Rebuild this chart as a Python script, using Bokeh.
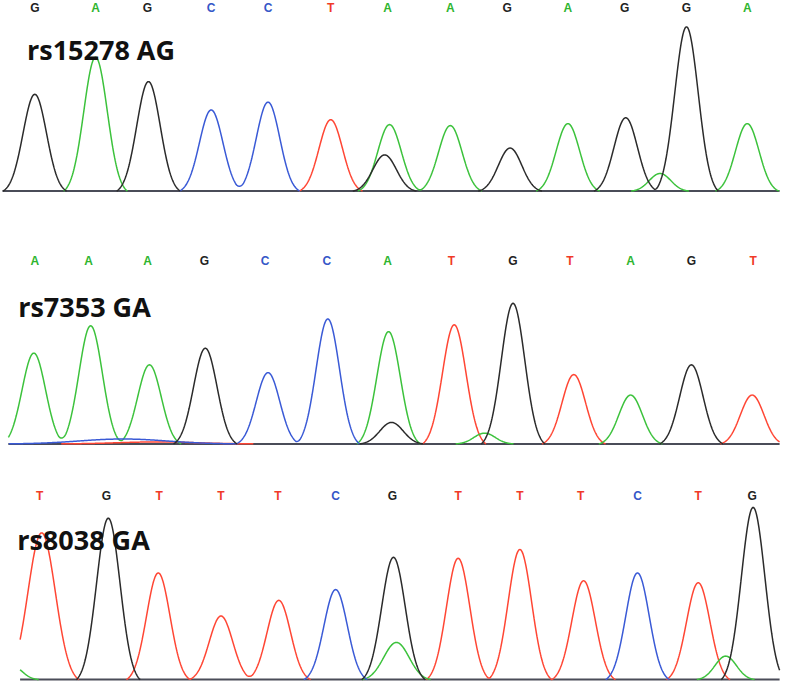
import numpy as np
from bokeh.plotting import figure
from bokeh.layouts import column
from bokeh.models import Range1d
from bokeh.embed import file_html
from bokeh.resources import INLINE
from bokeh.core.properties import value

# ---------------- data ----------------
# Panel 1
p1_title = "rs15278 AG"
p1_calls = ["G", "A", "G", "C", "C", "T", "A", "A", "G", "A", "G", "G", "A"]
p1_call_x = [35, 97, 150, 215, 273, 337, 395, 459, 517, 579, 637, 700, 762]
p1_peak_base = ["G", "A", "G", "C", "C", "T", "A", "G", "A", "G", "A", "G", "A", "G", "A"]
p1_peak_x = [35, 97, 151, 215, 273, 337, 397, 392, 459, 520, 579, 638, 673, 700, 762]
p1_peak_h = [99, 137, 112, 83, 91, 73, 68, 37, 67, 44, 69, 75, 18, 168, 69]
p1_peak_w = [12, 12, 12, 12, 12, 12, 12, 12, 12, 12, 12, 12, 11, 12, 12]
p1_scan = [2, 795]

# Panel 2
p2_title = "rs7353 GA"
p2_calls = ["A", "A", "A", "G", "C", "C", "A", "T", "G", "T", "A", "G", "T"]
p2_call_x = [35, 90, 150, 208, 270, 333, 395, 460, 523, 581, 643, 705, 768]
p2_peak_base = ["A", "A", "A", "G", "C", "C", "A", "G", "T", "A", "G", "T", "A", "G", "T", "C", "T"]
p2_peak_x = [34, 92, 152, 209, 273, 334, 396, 399, 463, 494, 523, 585, 643, 705, 767, 125, 160]
p2_peak_h = [93, 121, 81, 98, 73, 128, 115, 22, 122, 11, 144, 71, 50, 81, 50, 5, 2]
p2_peak_w = [12, 12, 12, 12, 12, 12, 12, 12, 12, 11, 12, 12, 12, 12, 12, 45, 40]
p2_scan = [8, 795]

# Panel 3
p3_title = "rs8038 GA"
p3_calls = ["T", "G", "T", "T", "T", "C", "G", "T", "T", "T", "C", "T", "G"]
p3_call_x = [40, 108, 162, 225, 283, 342, 400, 467, 530, 592, 650, 712, 767]
p3_peak_base = ["T", "A", "G", "T", "T", "T", "C", "G", "A", "T", "T", "T", "C", "T", "A", "G"]
p3_peak_x = [42, 12, 110, 161, 225, 284, 342, 401, 404, 467, 530, 595, 650, 712, 740, 768]
p3_peak_h = [150, 14, 165, 109, 65, 81, 92, 125, 38, 124, 133, 101, 109, 99, 24, 176]
p3_peak_w = [14, 10, 12, 12, 12, 12, 12, 12, 13, 12, 12, 12, 12, 12, 11, 12]
p3_scan = [20, 795]

# ---------------- styling ----------------
TRACE_COL = {"A": "#3cc23c", "C": "#3a5ad6", "G": "#2b2b2b", "T": "#ff4634"}
CALL_COL = {"A": "#2fb52f", "C": "#3557c8", "G": "#222222", "T": "#f03a28"}


def channel(xs, bases, px, ph, pw, which):
    y = np.zeros_like(xs, dtype=float)
    for b, x0, h, w in zip(bases, px, ph, pw):
        if b != which:
            continue
        g = np.exp(-((xs - x0) ** 2) / (2.0 * w * w))
        cut = np.exp(-(2.7 ** 2) / 2.0)
        y += h * np.clip((g - cut) / (1 - cut), 0, None)
    nz = y > 0.05
    keep = nz | np.roll(nz, 1) | np.roll(nz, -1)
    out = y.copy()
    out[~keep] = np.nan
    return out


def panel(height, yr, title, calls, call_x, pb, px, ph, pw, scan,
          title_x, title_y, label_y):
    p = figure(width=784, height=height, x_range=Range1d(0, 800),
               y_range=Range1d(*yr), output_backend="svg",
               toolbar_location=None, min_border=0)
    p.axis.visible = False
    p.grid.visible = False
    p.outline_line_color = None
    p.background_fill_color = "white"
    p.border_fill_color = "white"

    # baseline
    p.segment(x0=[scan[0]], y0=[0], x1=[scan[1]], y1=[0],
              line_color="#4a4c58", line_width=2)

    xs = np.arange(scan[0], scan[1] + 0.5, 0.5)
    for b in ["T", "A", "C", "G"]:
        y = channel(xs, pb, px, ph, pw, b)
        p.line(xs, y, line_color=TRACE_COL[b], line_width=1.5)

    # base calls
    p.text(x=call_x, y=[label_y] * len(call_x), text=calls,
           text_color=[CALL_COL[c] for c in calls],
           text_font=value("Liberation Sans"), text_font_style="bold",
           text_font_size="12px", text_align="center",
           text_baseline="middle")
    # SNP title
    p.text(x=[title_x], y=[title_y], text=[title], text_color="#111111",
           text_font=value("Open Sans"), text_font_style="bold",
           text_font_size="27px", text_align="left",
           text_baseline="alphabetic")
    return p


p1 = panel(215, (-25, 195), p1_title, p1_calls, p1_call_x, p1_peak_base,
           p1_peak_x, p1_peak_h, p1_peak_w, p1_scan, 27, 145, 187)
p2 = panel(244, (-16, 234), p2_title, p2_calls, p2_call_x, p2_peak_base,
           p2_peak_x, p2_peak_h, p2_peak_w, p2_scan, 18, 141, 187)
p3 = panel(224, (-4, 225), p3_title, p3_calls, p3_call_x, p3_peak_base,
           p3_peak_x, p3_peak_h, p3_peak_w, p3_scan, 17, 143, 188)

layout = column(p1, p2, p3, spacing=0)
open("out.html", "w").write(file_html(layout, INLINE))
